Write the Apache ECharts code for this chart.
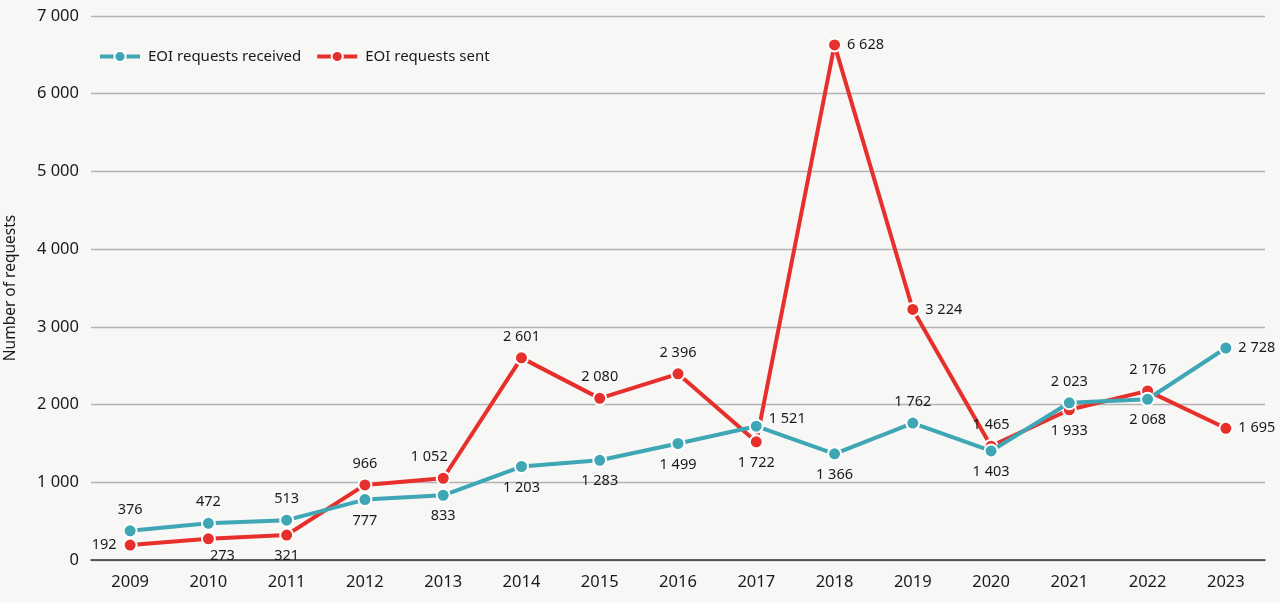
<!DOCTYPE html>
<html>
<head>
<meta charset="utf-8">
<script src="https://cdn.jsdelivr.net/npm/echarts@6/dist/echarts.min.js"></script>
<style>
  html, body { margin: 0; padding: 0; background: #f7f7f5; }
  #chart { width: 1280px; height: 603px; }
</style>
</head>
<body>
<div id="chart"></div>
<script>
// Years on the category axis
const years = ['2009', '2010', '2011', '2012', '2013', '2014', '2015', '2016',
               '2017', '2018', '2019', '2020', '2021', '2022', '2023'];
// Exchange-of-information requests received
const received = [376, 472, 513, 777, 833, 1203, 1283, 1499, 1722, 1366, 1762, 1403, 2023, 2068, 2728];
// Exchange-of-information requests sent
const sent = [192, 273, 321, 966, 1052, 2601, 2080, 2396, 1521, 6628, 3224, 1465, 1933, 2176, 1695];
// Y axis ticks
const yTicks = [0, 1000, 2000, 3000, 4000, 5000, 6000, 7000];

// Where each value label sits relative to its point
const receivedLabelPlace = ['top', 'top', 'top', 'bottom', 'bottom', 'bottom', 'bottom', 'bottom',
                            'bottomFar', 'bottom', 'top', 'bottom', 'top', 'bottom', 'right'];
const sentLabelPlace = ['left', 'bottomRight', 'bottom', 'top', 'topLeft', 'top', 'top', 'top',
                        'topRightFar', 'right', 'right', 'top', 'bottom', 'top', 'right'];

const FONT = '"Noto Sans", "Open Sans", sans-serif';
const fmt = v => String(v).replace(/\B(?=(\d{3})+(?!\d))/g, ' ');

function labelFor(place) {
  switch (place) {
    case 'top': return { position: 'top', distance: 6 };
    case 'bottom': return { position: 'bottom', distance: 6 };
    case 'left': return { position: 'left', distance: 6 };
    case 'right': return { position: 'right', distance: 5 };
    case 'bottomRight': return { position: 'bottom', distance: 2, offset: [14, 0] };
    case 'topLeft': return { position: 'top', distance: 6, offset: [-14, 0] };
    case 'bottomFar': return { position: 'bottom', distance: 22 };
    case 'topRightFar': return { position: 'right', distance: 5, offset: [0, -23] };
  }
  return {};
}

function buildData(values, places) {
  return values.map((v, i) => ({ value: v, label: labelFor(places[i]) }));
}

const lineSeries = (name, color, values, places) => ({
  name,
  type: 'line',
  data: buildData(values, places),
  symbol: 'circle',
  symbolSize: 13,
  showAllSymbol: true,
  lineStyle: { color, width: 4 },
  itemStyle: { color, borderColor: '#ffffff', borderWidth: 2 },
  label: {
    show: true,
    color: '#1a1a1a',
    fontSize: 14.5,
    fontFamily: FONT,
    formatter: p => fmt(p.value)
  },
  emphasis: { disabled: true },
  z: name === 'EOI requests sent' ? 3 : 4
});

const chart = echarts.init(document.getElementById('chart'), null, { renderer: 'canvas' });
chart.setOption({
  backgroundColor: '#f7f7f5',
  animation: false,
  grid: { left: 91, right: 15, top: 16, bottom: 43, containLabel: false, outerBoundsMode: 'none' },
  legend: {
    left: 93,
    top: 44,
    itemWidth: 40,
    itemHeight: 14,
    itemGap: 14,
    lineStyle: { width: 4 },
    itemStyle: { borderColor: '#ffffff', borderWidth: 2 },
    textStyle: { fontSize: 15, color: '#1a1a1a', fontFamily: FONT, padding: [0, 0, 0, 3] },
    data: ['EOI requests received', 'EOI requests sent']
  },
  xAxis: {
    type: 'category',
    data: years,
    boundaryGap: true,
    axisLine: { lineStyle: { color: '#333333', width: 1.5 } },
    axisTick: { alignWithLabel: true, length: 7, lineStyle: { color: '#333333' } },
    axisLabel: { color: '#1a1a1a', fontSize: 16.5, fontFamily: FONT, margin: 14 }
  },
  yAxis: {
    type: 'value',
    min: yTicks[0],
    max: yTicks[yTicks.length - 1],
    interval: yTicks[1] - yTicks[0],
    name: 'Number of requests',
    nameLocation: 'middle',
    nameGap: 72,
    nameRotate: 90,
    nameTextStyle: { color: '#1a1a1a', fontSize: 15.5, fontFamily: FONT },
    axisLine: { show: false },
    axisTick: { show: false },
    splitLine: { lineStyle: { color: '#b3b3b3', width: 1.3 } },
    axisLabel: { color: '#1a1a1a', fontSize: 16.5, fontFamily: FONT, margin: 12, formatter: v => fmt(v) }
  },
  series: [
    lineSeries('EOI requests received', '#3ea6b4', received, receivedLabelPlace),
    lineSeries('EOI requests sent', '#e7302c', sent, sentLabelPlace)
  ]
});
</script>
</body>
</html>
